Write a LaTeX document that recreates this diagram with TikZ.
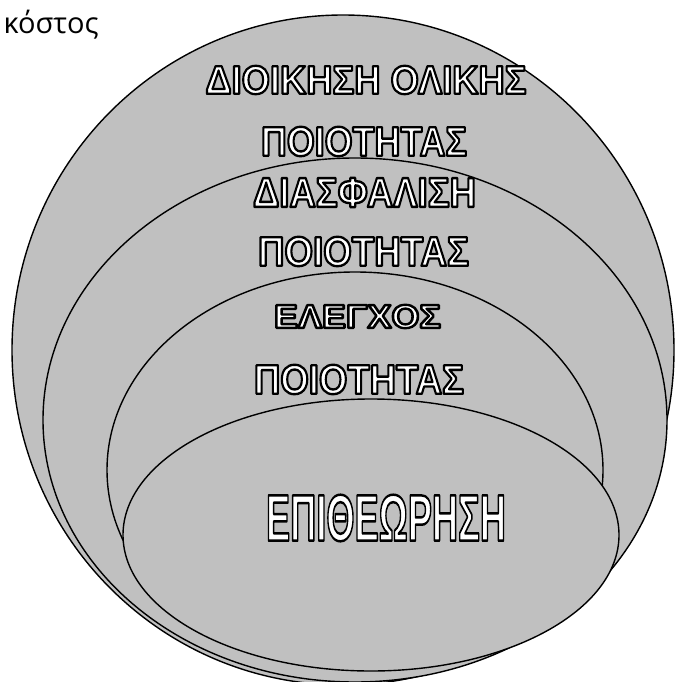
\documentclass[tikz,border=0pt]{standalone}
\usepackage{fontspec}
\setmainfont{Liberation Sans}
\newfontfamily\costfont{Open Sans}
\usepackage{graphicx}
\definecolor{areagray}{RGB}{192,192,192}
% outlined capitals: font size, width, height, text
\newcommand{\wordart}[4]{\resizebox{#2pt}{#3pt}{\fontsize{#1pt}{#1pt}\selectfont\bfseries\color{white}%
  \special{pdf:literal direct 0 0 0 RG 2 Tr 2.4 w 1 j}#4\special{pdf:literal direct 0 Tr}}}

\begin{document}
\begin{tikzpicture}[x=1pt, y=-1pt, line width=1.4pt,
  layer/.style={draw=black, fill=areagray},
  art/.style={inner sep=0pt}]
  \useasboundingbox (0,0) rectangle (675,682);
  % Nested quality levels, widest first
  \draw[layer] (343,350) ellipse [x radius=331pt, y radius=335pt];
  \draw[layer] (355,420) ellipse [x radius=312pt, y radius=262pt];
  \draw[layer] (355,470) ellipse [x radius=248pt, y radius=198pt];
  \draw[layer] (371,535) ellipse [x radius=248pt, y radius=136pt];
  % Axis label
  \node[anchor=base west, inner sep=0pt, font=\costfont\fontsize{29pt}{29pt}\selectfont] (cost) at (3,34) {κόστος};
  % Level names
  \node[art] (tqmA) at (366,80)    {\wordart{42}{321}{28}{ΔΙΟΙΚΗΣΗ ΟΛΙΚΗΣ}};
  \node[art] (tqmB) at (364,141.5) {\wordart{42}{206}{29}{ΠΟΙΟΤΗΤΑΣ}};
  \node[art] (qaA)  at (364.5,192.5) {\wordart{42}{223}{29}{ΔΙΑΣΦΑΛΙΣΗ}};
  \node[art] (qaB)  at (363.5,251.5) {\wordart{42}{211}{29}{ΠΟΙΟΤΗΤΑΣ}};
  \node[art] (qcA)  at (357.5,316.5) {\wordart{33}{167}{23}{ΕΛΕΓΧΟΣ}};
  \node[art] (qcB)  at (359,379.5) {\wordart{42}{210}{29}{ΠΟΙΟΤΗΤΑΣ}};
  \node[art] (insp) at (386,518)   {\wordart{64}{240}{46}{ΕΠΙΘΕΩΡΗΣΗ}};
\end{tikzpicture}
\end{document}
